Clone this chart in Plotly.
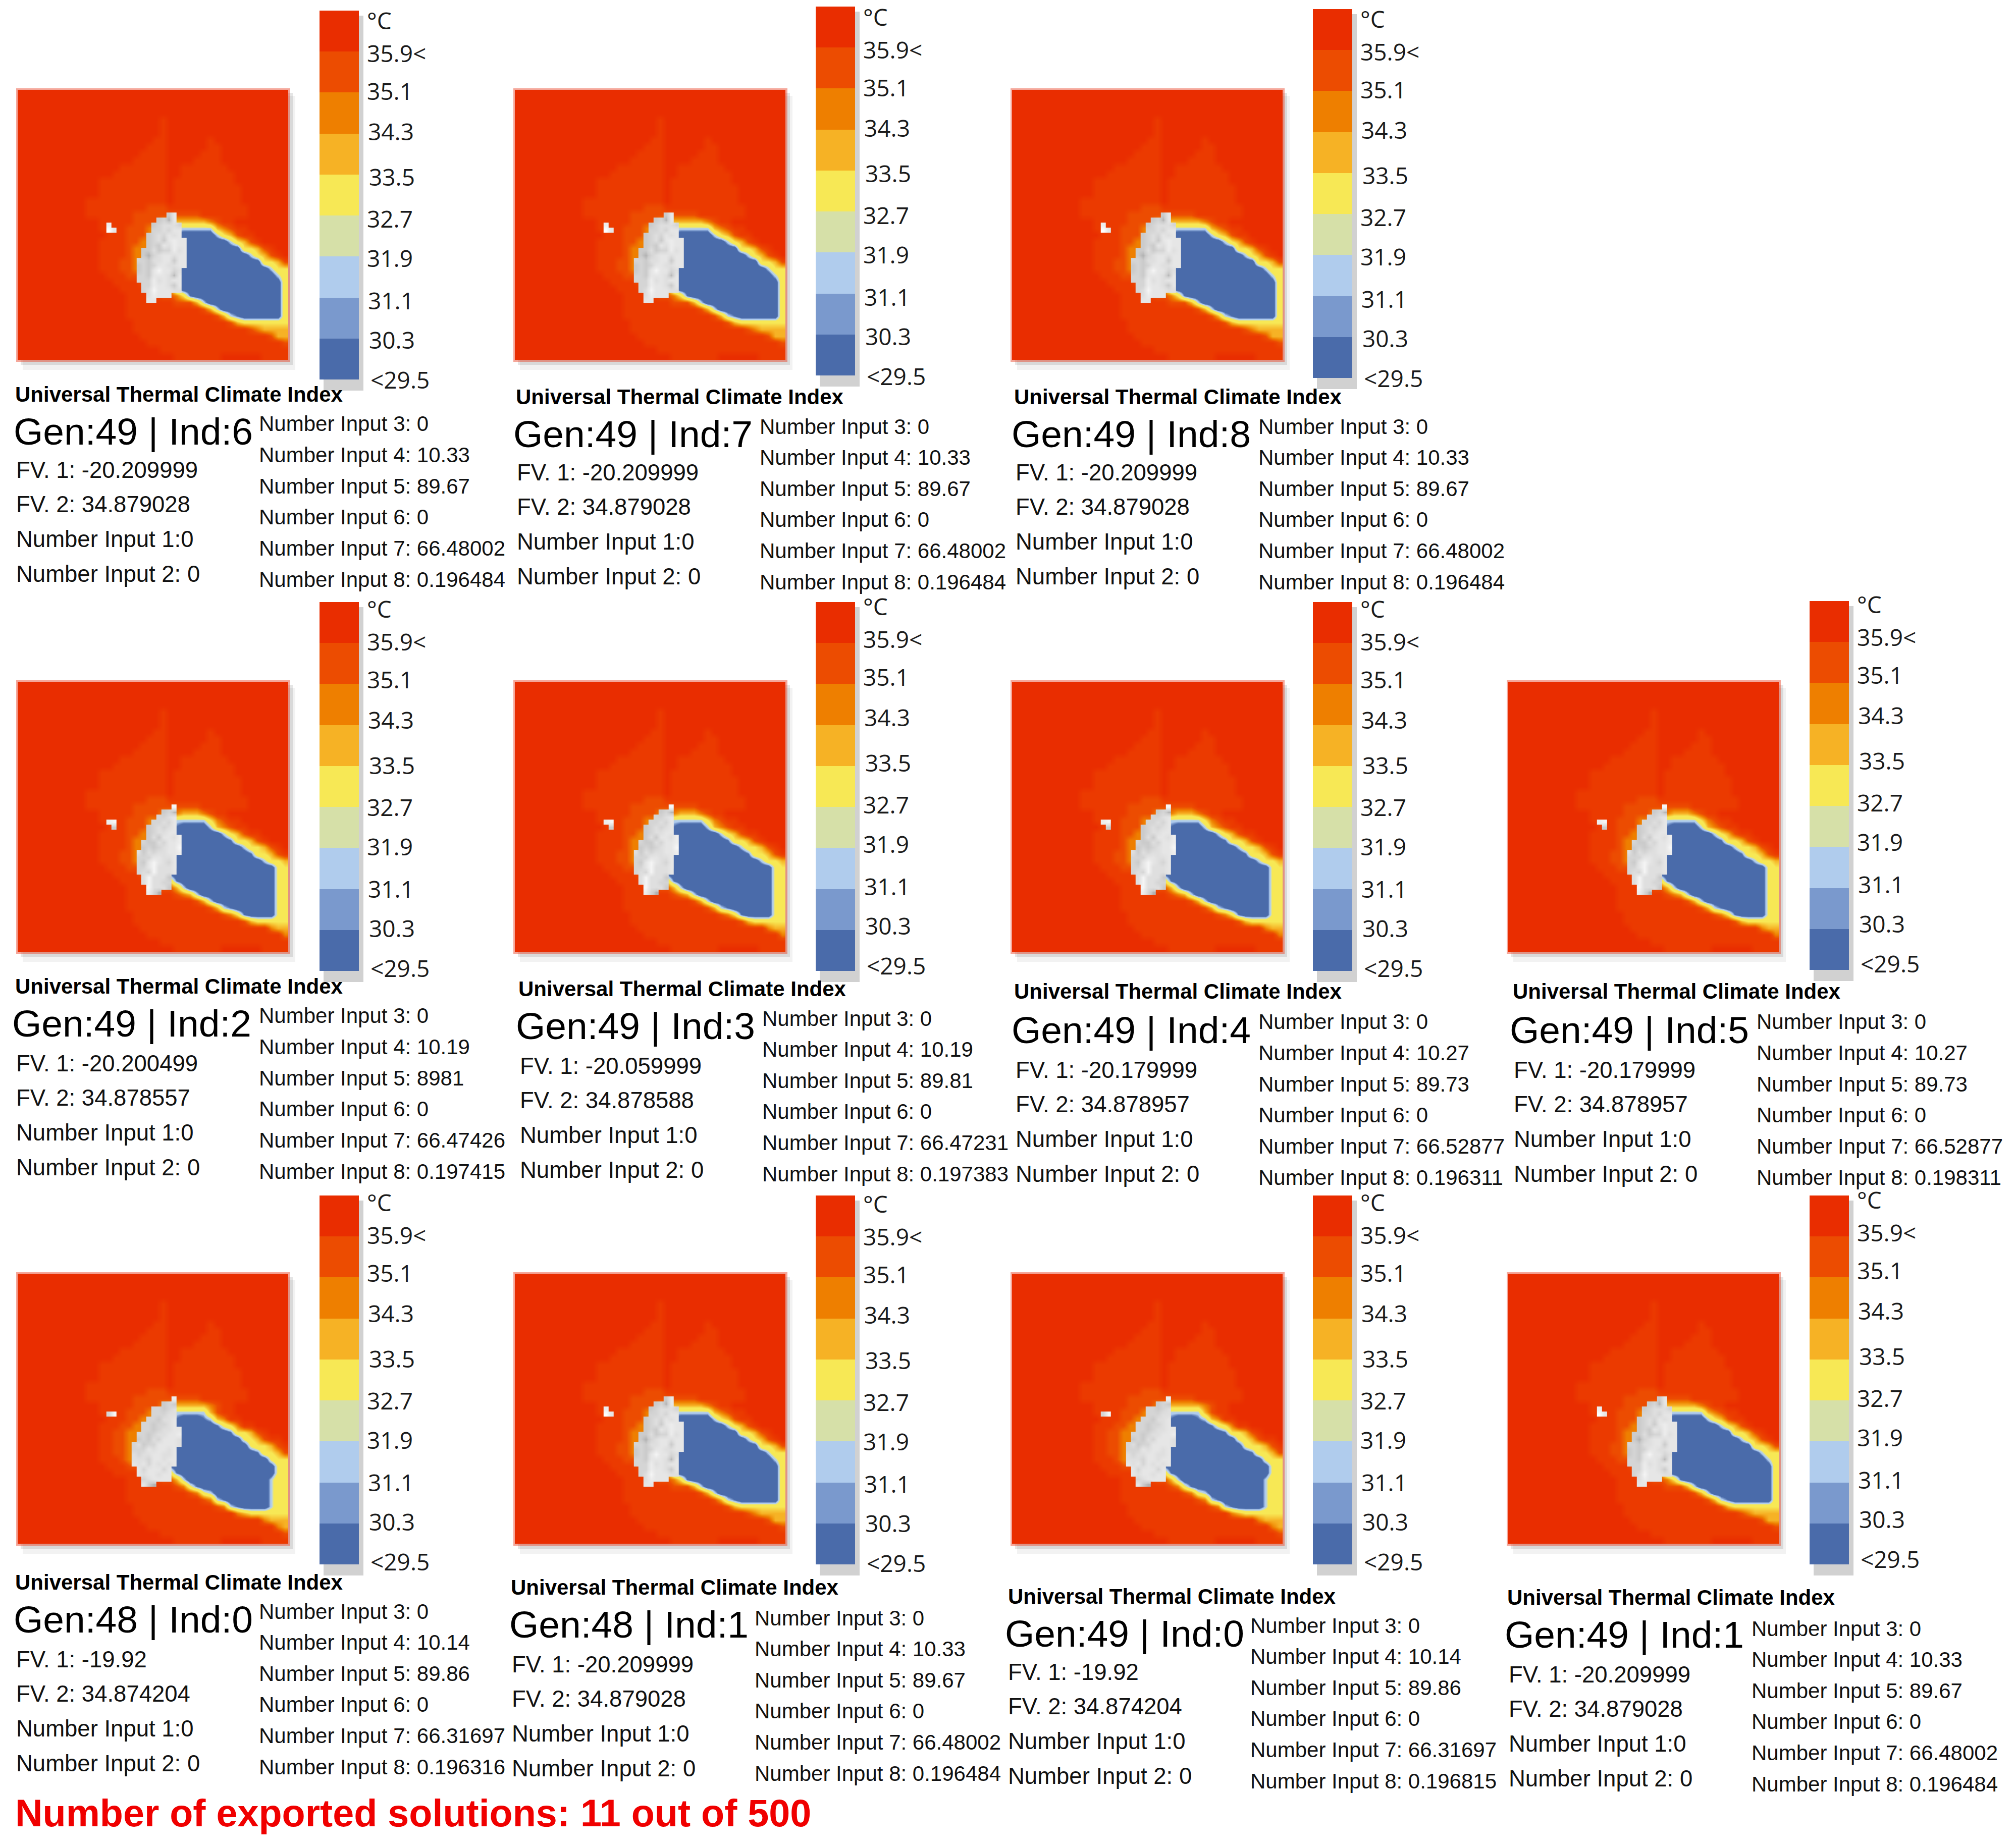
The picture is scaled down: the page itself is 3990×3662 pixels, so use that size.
import plotly.graph_objects as go

W = 3990
H = 3662

# colorbar bands, top to bottom
BAND_COLORS = ["#E92D00", "#EC4C01", "#EE7F00", "#F6B225", "#F7E855",
               "#D6E0A8", "#B0CCED", "#7A99CD", "#4A6BAA"]
BAR_LABELS = ["°C", "35.9<", "35.1", "34.3", "33.5", "32.7", "31.9", "31.1", "30.3", "<29.5"]

# colour per digit of the thermal field, the cold bands are squeezed so the edges stay crisp
FIELD_STOPS = [0, 1, 1.4, 1.7, 2, 2.4, 2.7, 4, 5, 6, 7, 8, 9]
FIELD_COLORS = ["#4A6BAA", "#4A6BAA", "#7A99CD", "#B0CCED", "#B0CCED", "#D6E0A8", "#F7E855",
                "#F7E855", "#F6B225", "#EE7F00", "#EC4C01", "#EB3A00", "#E92D00"]

GENS = [49, 49, 49, 49, 49, 49, 49, 48, 48, 49, 49]
INDS = [6, 7, 8, 2, 3, 4, 5, 0, 1, 0, 1]
FV1 = ["-20.209999", "-20.209999", "-20.209999", "-20.200499", "-20.059999", "-20.179999",
       "-20.179999", "-19.92", "-20.209999", "-19.92", "-20.209999"]
FV2 = ["34.879028", "34.879028", "34.879028", "34.878557", "34.878588", "34.878957",
       "34.878957", "34.874204", "34.879028", "34.874204", "34.879028"]
INPUT4 = ["10.33", "10.33", "10.33", "10.19", "10.19", "10.27", "10.27", "10.14", "10.33", "10.14", "10.33"]
INPUT5 = ["89.67", "89.67", "89.67", "8981", "89.81", "89.73", "89.73", "89.86", "89.67", "89.86", "89.67"]
INPUT7 = ["66.48002", "66.48002", "66.48002", "66.47426", "66.47231", "66.52877",
          "66.52877", "66.31697", "66.48002", "66.31697", "66.48002"]
INPUT8 = ["0.196484", "0.196484", "0.196484", "0.197415", "0.197383", "0.196311",
          "0.198311", "0.196316", "0.196484", "0.196815", "0.196484"]
TITLE = "Universal Thermal Climate Index"
FOOTER = "Number of exported solutions: 11 out of 500"

# thermal field, one digit per cell, 0 = coldest band
FIELD_TOP = [
    "9999999999 9999999999 9999999999 9999999999",
    "9999999999 9999999999 9999999999 9999999999",
    "9999999999 9999999999 9999999999 9999999999",
    "9999999999 9999999999 9999999999 9999999999",
    "9999999999 9999999999 9899999999 9999999999",
    "9999999999 9999999999 9899999999 9999999999",
    "9999999999 9999999999 9899999999 9999999999",
    "9999999999 9999999999 8899999989 9999999999",
    "9999999999 9999999998 8899999988 9999999999",
    "9999999999 9999999988 8899999888 9999999999",
    "9999999999 9999999888 8899998888 9999999999",
    "9999999999 9999988888 8899888888 8999999999",
    "9999999999 9999888888 8899888888 8899999999",
    "9999999999 9988888888 8898888888 8899999999",
    "9999999999 9988888888 8898888888 8889999999",
    "9999999999 9988888888 8898888888 8889999999",
    "9999999999 8888888888 8898888888 8889999999",
    "9999999999 8888888887 7788888888 8888999999",
    "9999999999 8888888777 7777777888 8888999999",
]
FIELD_A = FIELD_TOP + [
    "9999999999 9988888777 7665555567 8899999999",
    "9999999999 9988887776 6652222225 6788999999",
    "9999999999 9998887776 6651000002 4578899999",
    "9999999999 9988887766 6651000000 0245789999",
    "9999999999 9988887666 6651000000 0004457899",
    "9999999999 9988887666 6641000000 0000245789",
    "9999999999 9988877666 6641000000 0000004457",
    "9999999999 9988877666 6641000000 0000000244",
    "9999999999 9998887777 7741000000 0000000024",
    "9999999999 9999888877 7741000000 0000000004",
    "9999999999 9999988887 7761000000 0000000004",
    "9999999999 9999998888 8776410000 0000000004",
    "9999999999 9999998888 8887775200 0000000004",
    "9999999999 9999998888 8888888752 0000000004",
    "9999999999 9999998888 8888888887 5210000004",
    "9999999999 9999999888 8888888888 8754444444",
    "9999999999 9999999888 8888888888 8888765555",
    "9999999999 9999999988 8888888888 8888888755",
    "9999999999 9999999998 8888888888 8888888887",
    "9999999999 9999999999 9888888888 8888888888",
    "9999999999 9999999999 9998888888 9999998888",
]
FIELD_B = FIELD_TOP + [
    "9999999999 9988888777 7666555678 8999999999",
    "9999999999 9988887776 6652222246 7889999999",
    "9999999999 9998887776 6651000025 6788999999",
    "9999999999 9988887766 6651000000 2457889999",
    "9999999999 9988887666 6651000000 0144578999",
    "9999999999 9988887666 6641000000 0002445789",
    "9999999999 9988877666 6641000000 0000144578",
    "9999999999 9988877666 6641000000 0000002445",
    "9999999999 9998887777 7741000000 0000000034",
    "9999999999 9999888877 7710000000 0000000034",
    "9999999999 9999988887 7741000000 0000000034",
    "9999999999 9999998888 8775200000 0000000034",
    "9999999999 9999998888 8887652000 0000000034",
    "9999999999 9999998888 8888887520 0000000034",
    "9999999999 9999998888 8888888875 2100000034",
    "9999999999 9999999888 8888888888 7641000034",
    "9999999999 9999999888 8888888888 8887544444",
    "9999999999 9999999988 8888888888 8888888655",
    "9999999999 9999999998 8888888888 8888888886",
    "9999999999 9999999999 9888888888 8888888888",
    "9999999999 9999999999 9998888888 9999998888",
]
FIELD_C = FIELD_TOP + [
    "9999999999 9988888777 7665555567 8899999999",
    "9999999999 9988887776 6652222257 8899999999",
    "9999999999 9998887766 6651000125 6889999999",
    "9999999999 9988877666 6651000001 3468899999",
    "9999999999 9988776666 6651000000 0144578999",
    "9999999999 9988776666 6641000000 0003457889",
    "9999999999 9988776666 6641000000 0000344578",
    "9999999999 9988776666 6641000000 0000014457",
    "9999999999 9988876666 7741000000 0000000344",
    "9999999999 9998887777 7710000000 0000000034",
    "9999999999 9999888877 7741000000 0000000034",
    "9999999999 9999998888 8775200000 0000000244",
    "9999999999 9999998888 8887631000 0000000244",
    "9999999999 9999998888 8888876320 0000000244",
    "9999999999 9999998888 8888888762 1000000244",
    "9999999999 9999999888 8888888887 6210000244",
    "9999999999 9999999888 8888888888 8865444444",
    "9999999999 9999999988 8888888888 8888886555",
    "9999999999 9999999998 8888888888 8888888865",
    "9999999999 9999999999 9888888888 8888888887",
    "9999999999 9999999999 9998888888 9999998888",
]

# building and the small object next to it, grey levels, . = nothing there
SOLID_A = [
    "..................",
    ".............36...",
    "...........3426...",
    ".7........345554..",
    ".96.......445466..",
    ".........3454656..",
    ".........34536766.",
    ".........34365766.",
    "........335344756.",
    "........324566566.",
    ".......4435566366.",
    ".......3434665566.",
    ".......343686645..",
    ".......443666526..",
    ".......444756566..",
    "........44766536..",
    "........45866655..",
    ".........57666....",
    ".........66.......",
    "..................",
]
SOLID_B = [
    "..................",
    "..............8...",
    "............342...",
    "...........4456...",
    ".78.......44546...",
    "..3......345456...",
    ".........345566...",
    ".........3536657..",
    "........43354667..",
    "........34345668..",
    ".......535455667..",
    ".......44466556...",
    ".......43686546...",
    ".......44685556...",
    ".......45485556...",
    "........585553....",
    "........585544....",
    ".........85553....",
    ".........742......",
    "..................",
]
SOLID_C = [
    "..................",
    "..............7...",
    "............343...",
    "..........44345...",
    ".48.......44455...",
    ".........443556...",
    "........4434456...",
    "........44345566..",
    ".......443455667..",
    ".......343546665..",
    "......4534466665..",
    "......444656656...",
    "......545566556...",
    "......555466566...",
    "......656465656...",
    ".......6466646....",
    ".......6566566....",
    "........456666....",
    "........632.......",
    "..................",
]

# which field each panel looks like
PANEL_FIELD = [FIELD_A, FIELD_A, FIELD_A, FIELD_B, FIELD_B, FIELD_B, FIELD_B, FIELD_C, FIELD_A, FIELD_C, FIELD_A]
PANEL_SOLID = [SOLID_A, SOLID_A, SOLID_A, SOLID_B, SOLID_B, SOLID_B, SOLID_B, SOLID_C, SOLID_A, SOLID_C, SOLID_A]

# page layout in pixels, one entry per panel
HEAT_X = [35, 1020, 2005, 35, 1020, 2005, 2988, 35, 1020, 2005, 2988]
HEAT_Y = [178, 178, 178, 1351, 1351, 1351, 1351, 2524, 2524, 2524, 2524]
BAR_X = [633, 1616, 2601, 633, 1616, 2601, 3585, 633, 1616, 2601, 3585]
BAR_Y = [21, 13, 18, 1193, 1193, 1193, 1191, 2369, 2369, 2369, 2369]
LABEL_SHIFT = [-2, -1, -2, -8, -13, -8, -15, -8, -5, -8, -13]
TITLE_POS = [(31, 781), (1023, 786), (2010, 786), (31, 1954), (1028, 1959), (2010, 1964),
             (2998, 1964), (31, 3135), (1013, 3145), (1998, 3163), (2987, 3165)]
GEN_POS = [(28, 855), (1018, 860), (2005, 860), (25, 2028), (1023, 2033), (2005, 2041),
           (2992, 2041), (28, 3209), (1010, 3219), (1992, 3237), (2982, 3239)]
FV_POS = [(33, 931), (1025, 936), (2013, 936), (33, 2107), (1031, 2112), (2013, 2120),
          (3000, 2120), (33, 3288), (1015, 3298), (1998, 3313), (2990, 3318)]
INPUT_POS = [(514, 840), (1506, 845), (2494, 845), (514, 2013), (1511, 2018), (2494, 2025),
             (3481, 2025), (514, 3193), (1496, 3206), (2478, 3221), (3471, 3227)]
LABEL_DX = [95, 95, 95, 97, 99, 95, 95, 97, 99, 102]
LABEL_DY = [21, 86, 161, 241, 331, 414, 492, 576, 654, 733]

HEAT_W = 536
HEAT_H = 535
BAR_W = 78
BAR_H = 731

ARIAL = "Liberation Sans, Arial, sans-serif"
field_scale = [[s / 9, c] for s, c in zip(FIELD_STOPS, FIELD_COLORS)]
grey_scale = [[0, "#808080"], [3 / 9, "#cbcbcb"], [5 / 9, "#dfdfdf"], [7 / 9, "#ededed"], [1, "#ffffff"]]
bar_scale = [[k / 8, c] for k, c in enumerate(BAND_COLORS)]


def parse_grid(rows):
    rows = [r.replace(" ", "") for r in rows]
    return [[None if ch == "." else int(ch) for ch in r] for r in rows]


def px_x(x):
    return x / W


def px_y(y):
    return 1 - y / H


fig = go.Figure()
annotations = []
shapes = []


def add_text(x, y, text, size, family=ARIAL, bold=False, color="#111111"):
    annotations.append(dict(
        x=px_x(x - 3), y=px_y(y), xref="paper", yref="paper", showarrow=False,
        xanchor="left", yanchor="middle", align="left",
        text=f"<b>{text}</b>" if bold else text,
        font=dict(family=family, size=size, color=color),
    ))


def add_shadow(x0, y0, x1, y1, color):
    shapes.append(dict(type="rect", xref="paper", yref="paper", layer="below",
                       x0=px_x(x0), x1=px_x(x1), y0=px_y(y1), y1=px_y(y0),
                       fillcolor=color, line_width=0))


def set_axes(n, x0, y0, w, h, xrange, yrange):
    fig.layout[f"xaxis{n}"] = dict(domain=[px_x(x0), px_x(x0 + w)], range=xrange, visible=False,
                                   anchor=f"y{n}", fixedrange=True)
    fig.layout[f"yaxis{n}"] = dict(domain=[px_y(y0 + h), px_y(y0)], range=yrange, visible=False,
                                   anchor=f"x{n}", fixedrange=True)


for i in range(len(INDS)):
    hx, hy = HEAT_X[i], HEAT_Y[i]
    bx, by = BAR_X[i], BAR_Y[i]

    # soft drop shadows and the pale edge around the map
    add_shadow(hx + 10, hy + 12, hx + HEAT_W + 14, hy + HEAT_H + 20, "rgba(0,0,0,0.05)")
    add_shadow(hx + 6, hy + 6, hx + HEAT_W + 9, hy + HEAT_H + 10, "rgba(0,0,0,0.10)")
    add_shadow(hx - 3, hy - 3, hx + HEAT_W + 4, hy + HEAT_H + 4, "rgba(233,60,30,0.45)")
    add_shadow(bx + 8, by + 10, bx + BAR_W + 9, by + BAR_H + 22, "rgba(0,0,0,0.18)")

    n = 2 * i + 1
    set_axes(n, hx, hy, HEAT_W, HEAT_H, [0, 40], [40, 0])
    fig.add_trace(go.Heatmap(
        z=parse_grid(PANEL_FIELD[i]), x0=0.5, dx=1, y0=0.5, dy=1,
        colorscale=field_scale, zmin=0, zmax=9, zsmooth="best", showscale=False,
        xaxis=f"x{n}", yaxis=f"y{n}", hoverinfo="skip",
    ))
    fig.add_trace(go.Heatmap(
        z=parse_grid(PANEL_SOLID[i]), x0=12.74, dx=0.741, y0=17.8, dy=0.745,
        colorscale=grey_scale, zmin=0, zmax=9, zsmooth="best", showscale=False,
        xaxis=f"x{n}", yaxis=f"y{n}", hoverinfo="skip",
    ))

    n = 2 * i + 2
    set_axes(n, bx, by, BAR_W, BAR_H, [-0.5, 0.5], [8.5, -0.5])
    fig.add_trace(go.Heatmap(
        z=[[k] for k in range(len(BAND_COLORS))], y=list(range(len(BAND_COLORS))),
        colorscale=bar_scale, zmin=0, zmax=8, showscale=False,
        xaxis=f"x{n}", yaxis=f"y{n}", hoverinfo="skip",
    ))

    for label, dx, dy in zip(BAR_LABELS, LABEL_DX, LABEL_DY):
        add_text(bx + dx, by + dy + LABEL_SHIFT[i], label, 46, family="Open Sans, sans-serif", color="#1a1a1a")

    add_text(*TITLE_POS[i], TITLE, 42, bold=True, color="#000000")
    add_text(*GEN_POS[i], f"Gen:{GENS[i]} | Ind:{INDS[i]}", 75, color="#000000")

    fv_lines = [f"FV. 1: {FV1[i]}", f"FV. 2: {FV2[i]}", "Number Input 1:0", "Number Input 2: 0"]
    for k, line in enumerate(fv_lines):
        add_text(FV_POS[i][0], FV_POS[i][1] + k * 68.7, line, 45.5)

    input_lines = ["Number Input 3: 0", f"Number Input 4: {INPUT4[i]}", f"Number Input 5: {INPUT5[i]}",
                   "Number Input 6: 0", f"Number Input 7: {INPUT7[i]}", f"Number Input 8: {INPUT8[i]}"]
    for k, line in enumerate(input_lines):
        add_text(INPUT_POS[i][0], INPUT_POS[i][1] + k * 61.6, line, 42)

add_text(31, 3593, FOOTER, 75.5, bold=True, color="#F00000")

fig.update_layout(
    width=W,
    height=H,
    margin=dict(l=0, r=0, t=0, b=0),
    paper_bgcolor="white",
    plot_bgcolor="white",
    showlegend=False,
    annotations=annotations,
    shapes=shapes,
)

fig.write_html("out.html", config={"displayModeBar": False},
               post_script="document.body.style.margin='0';")
